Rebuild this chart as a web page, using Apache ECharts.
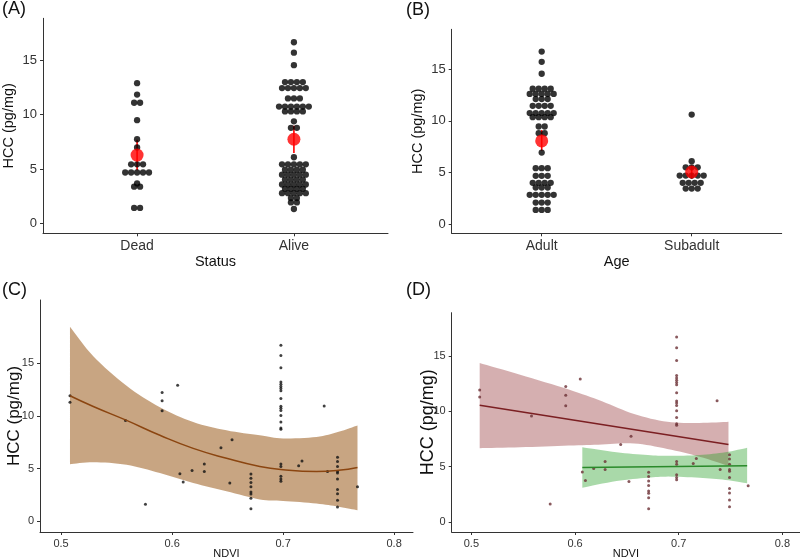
<!DOCTYPE html>
<html>
<head>
<meta charset="utf-8">
<script src="https://cdn.jsdelivr.net/npm/echarts@6/dist/echarts.min.js"></script>
<style>
  html, body { margin: 0; background: #fff; }
  #chart { width: 800px; height: 560px; }
</style>
</head>
<body>
<div id="chart"></div>
<script>
// ---- panel A : HCC by status (dot plot + mean / CI) ----
const statusCats = ['Dead', 'Alive'];
const hccDead = [12.9, 11.85, 11.1, 11.1, 9.5, 7.75, 7.0, 5.45, 5.45, 5.45,
  4.7, 4.7, 4.7, 4.7, 4.7, 3.7, 3.4, 3.4, 1.45, 1.45];
const hccAlive = [16.65, 15.7, 14.55, 13.0, 13.0, 13.0, 13.0,
  12.45, 12.45, 12.45, 12.45, 12.45, 11.5, 11.5, 11.5,
  10.75, 10.75, 10.75, 10.75, 10.75, 10.75, 10.3, 10.3, 10.3, 10.3,
  9.4, 8.8, 8.8, 6.1,
  5.45, 5.45, 5.45, 5.45, 5.45, 4.95, 4.95, 4.95, 4.95,
  4.5, 4.5, 4.5, 4.5, 4.5, 4.05, 4.05, 4.05, 4.05,
  3.6, 3.6, 3.6, 3.6, 3.6, 3.2, 3.2, 3.2, 3.2,
  2.8, 2.8, 2.8, 2.8, 2.8, 2.35, 2.35, 1.95, 1.95, 1.35];
const statusMean = [6.3, 7.75];
const statusLo = [4.9, 6.5];
const statusHi = [7.7, 9.0];

// ---- panel B : HCC by age ----
const ageCats = ['Adult', 'Subadult'];
const hccAdult = [16.7, 15.7, 14.55, 13.1, 13.1, 13.1, 13.1,
  12.6, 12.6, 12.6, 12.6, 12.6, 12.1, 12.1, 12.1,
  11.45, 11.45, 11.45, 11.45, 10.75, 10.75, 10.75, 10.75, 10.75,
  10.35, 10.35, 10.35, 10.35, 9.45, 9.45, 8.8, 8.8, 6.93,
  5.42, 5.42, 5.42, 4.68, 4.68, 4.68, 4.0, 4.0, 4.0, 4.0,
  3.55, 3.55, 3.55, 2.84, 2.84, 2.84, 2.84, 2.84,
  2.09, 2.09, 2.09, 1.38, 1.38, 1.38];
const hccSubadult = [10.6, 6.1, 5.5, 5.5, 5.5, 4.7, 4.7, 4.7, 4.7, 4.7,
  4.0, 4.0, 4.0, 4.0, 3.45, 3.45, 3.45];
const ageMean = [8.05, 5.05];
const ageLo = [7.1, 4.4];
const ageHi = [9.1, 5.7];

// ---- panels C / D : HCC vs NDVI ----
const ndvi = [0.508, 0.508, 0.558, 0.576, 0.591, 0.591, 0.591, 0.605, 0.607, 0.610,
  0.618, 0.629, 0.629, 0.644, 0.652, 0.654,
  0.671, 0.671, 0.671, 0.671, 0.671, 0.671, 0.671, 0.671,
  0.698, 0.698, 0.698, 0.698, 0.698, 0.698, 0.698, 0.698, 0.698, 0.698, 0.698,
  0.698, 0.698, 0.698, 0.698, 0.698, 0.698, 0.698, 0.698, 0.698, 0.698,
  0.714, 0.717, 0.737, 0.740,
  0.749, 0.749, 0.749, 0.749, 0.749, 0.749, 0.749, 0.749, 0.749, 0.749,
  0.767];
const hcc = [11.92, 11.3, 9.58, 1.62, 12.24, 11.45, 10.5, 12.92, 4.52, 3.75,
  4.84, 5.46, 4.74, 6.99, 3.65, 7.74,
  4.5, 4.1, 3.7, 3.3, 2.8, 2.6, 2.2, 1.2,
  16.7, 15.73, 14.58, 13.23, 13.0, 12.8, 12.6, 12.39, 11.67, 10.92, 10.74,
  10.52, 10.05, 9.43, 8.87, 8.74, 5.46, 5.21, 4.28, 4.03, 3.81,
  5.28, 5.74, 10.95, 4.74,
  6.08, 5.68, 5.21, 4.74, 4.59, 4.03, 3.03, 2.62, 2.0, 1.37,
  3.28];

// C: smooth fit with band
const fitX  = [0.508, 0.529, 0.559, 0.589, 0.619, 0.649, 0.679, 0.700, 0.730, 0.750, 0.767];
const fitY  = [11.92, 10.9, 9.58, 8.17, 6.93, 5.99, 5.21, 4.9, 4.74, 4.85, 5.12];
const fitLo = [5.43, 5.62, 5.37, 4.59, 3.65, 2.87, 2.09, 1.95, 1.7, 1.4, 1.06];
const fitHi = [18.47, 15.67, 12.86, 10.83, 9.43, 8.64, 8.17, 7.87, 8.02, 8.5, 9.11];

// D: linear fits per age class
const adultLineX = [0.508, 0.748];
const adultLineY = [10.54, 7.0];
const adultBandX  = [0.508, 0.547, 0.594, 0.626, 0.657, 0.689, 0.720, 0.748];
const adultBandLo = [6.67, 6.75, 6.9, 7.0, 7.1, 6.6, 5.9, 5.06];
const adultBandHi = [14.35, 13.3, 11.96, 10.9, 9.75, 9.05, 8.95, 9.05];
const subLineX = [0.607, 0.766];
const subLineY = [4.92, 5.08];
const subBandX  = [0.607, 0.640, 0.670, 0.690, 0.720, 0.745, 0.766];
const subBandLo = [3.1, 3.7, 4.0, 4.1, 4.0, 3.8, 3.5];
const subBandHi = [6.75, 6.3, 6.05, 5.98, 6.05, 6.3, 6.7];

const hccTicks = [0, 5, 10, 15];
const ndviTicks = [0.5, 0.6, 0.7, 0.8];

const FONT = '"Liberation Sans", Arial, sans-serif';
const grids = [
  { left: 40, top: 18.3, width: 348, height: 215 },
  { left: 451.7, top: 29.3, width: 330, height: 204 },
  { left: 40, top: 300, width: 373, height: 234.3 },
  { left: 451.7, top: 312.7, width: 356, height: 221.6 }
];

// centred dot stacks (same value -> one horizontal row)
function dotStacks(values, cx, step) {
  const counts = {};
  values.forEach(v => { counts[v] = (counts[v] || 0) + 1; });
  const out = [];
  Object.keys(counts).forEach(k => {
    const n = counts[k];
    for (let i = 0; i < n; i++) out.push([cx + (i - (n - 1) / 2) * step, +k]);
  });
  return out;
}

// rounded outline through pixel points (drawing only, like smooth:true on a line)
function curve(p) {
  const out = [p[0]];
  for (let i = 0; i < p.length - 1; i++) {
    const p0 = p[i - 1] || p[i], p1 = p[i], p2 = p[i + 1], p3 = p[i + 2] || p[i + 1];
    const c1 = [p1[0] + (p2[0] - p0[0]) / 6, p1[1] + (p2[1] - p0[1]) / 6];
    const c2 = [p2[0] - (p3[0] - p1[0]) / 6, p2[1] - (p3[1] - p1[1]) / 6];
    for (let s = 1; s <= 8; s++) {
      const t = s / 8, u = 1 - t;
      out.push([
        u * u * u * p1[0] + 3 * u * u * t * c1[0] + 3 * u * t * t * c2[0] + t * t * t * p2[0],
        u * u * u * p1[1] + 3 * u * u * t * c1[1] + 3 * u * t * t * c2[1] + t * t * t * p2[1]
      ]);
    }
  }
  return out;
}

function band(idx, xs, lo, hi, color) {
  return {
    type: 'custom', xAxisIndex: idx, yAxisIndex: idx, silent: true,
    data: [[xs[0], lo[0]]],
    renderItem: function (params, api) {
      const top = curve(xs.map((x, i) => api.coord([x, hi[i]])));
      const bot = curve(xs.map((x, i) => api.coord([x, lo[i]]))).reverse();
      return { type: 'polygon', shape: { points: top.concat(bot) }, style: { fill: color } };
    }
  };
}

function errBars(idx, lo, hi) {
  return {
    type: 'custom', xAxisIndex: idx, yAxisIndex: idx, silent: true,
    data: lo.map((l, i) => [i + 1, l, hi[i]]),
    renderItem: function (params, api) {
      const a = api.coord([api.value(0), api.value(1)]);
      const b = api.coord([api.value(0), api.value(2)]);
      return { type: 'line', shape: { x1: a[0], y1: a[1], x2: b[0], y2: b[1] },
        style: { stroke: '#ff0000', lineWidth: 1.6 } };
    }
  };
}

function axisBase(idx) {
  return {
    gridIndex: idx, type: 'value', scale: true,
    splitLine: { show: false },
    nameMoveOverlap: false,
    axisLine: { show: true, onZero: false, lineStyle: { color: '#333', width: 1 } },
    axisTick: { show: true, length: 3, lineStyle: { color: '#333' } }
  };
}

function catX(idx, cats, name) {
  return Object.assign(axisBase(idx), {
    min: 0.4, max: 2.6, name: name, nameLocation: 'middle', nameGap: 21,
    nameTextStyle: { fontSize: 14.5, color: '#111', fontFamily: FONT },
    axisLabel: { customValues: [1, 2], formatter: v => cats[Math.round(v) - 1],
      fontSize: 14, color: '#333', margin: 6, fontFamily: FONT },
    axisTick: { show: true, length: 3, customValues: [1, 2], lineStyle: { color: '#333' } }
  });
}

function hccY(idx, min, max, nameSize, nameGap, labelSize) {
  return Object.assign(axisBase(idx), {
    min: min, max: max, name: 'HCC (pg/mg)', nameLocation: 'middle', nameGap: nameGap,
    nameTextStyle: { fontSize: nameSize, color: '#111', fontFamily: FONT },
    axisLabel: { customValues: hccTicks, fontSize: labelSize, color: '#333', margin: 6, fontFamily: FONT },
    axisTick: { show: true, length: 3, customValues: hccTicks, lineStyle: { color: '#333' } }
  });
}

function ndviX(idx) {
  return Object.assign(axisBase(idx), {
    min: 0.481, max: 0.817, name: 'NDVI', nameLocation: 'middle', nameGap: 16,
    nameTextStyle: { fontSize: 11, color: '#111', fontFamily: FONT },
    axisLabel: { customValues: ndviTicks, formatter: v => v.toFixed(1),
      fontSize: 11, color: '#333', margin: 6, fontFamily: FONT },
    axisTick: { show: true, length: 3, customValues: ndviTicks, lineStyle: { color: '#333' } }
  });
}

const DOT = 6.3;
const stepA = (DOT - 0.3) / (grids[0].width / 2.2);
const stepB = (DOT - 0.3) / (grids[1].width / 2.2);
const pts = ndvi.map((x, i) => [x, hcc[i]]);

const chart = echarts.init(document.getElementById('chart'));
chart.setOption({
  animation: false,
  backgroundColor: '#fff',
  textStyle: { fontFamily: FONT },
  title: [
    { text: '(A)', left: 2, top: 0 },
    { text: '(B)', left: 406, top: 1 },
    { text: '(C)', left: 2, top: 281 },
    { text: '(D)', left: 406, top: 281 }
  ].map(t => Object.assign(t, { padding: 0,
    textStyle: { fontSize: 18, fontWeight: 'normal', color: '#111', fontFamily: FONT } })),
  grid: grids,
  xAxis: [catX(0, statusCats, 'Status'), catX(1, ageCats, 'Age'), ndviX(2), ndviX(3)],
  yAxis: [
    hccY(0, -0.88, 18.85, 14.5, 27, 13),
    hccY(1, -0.88, 18.85, 14.5, 26, 13),
    hccY(2, -1, 21, 17, 17, 11),
    hccY(3, -0.9, 18.9, 18, 15, 11)
  ],
  series: [
    // A
    { type: 'scatter', xAxisIndex: 0, yAxisIndex: 0, symbolSize: DOT,
      itemStyle: { color: '#000' },
      data: dotStacks(hccDead, 1, stepA).concat(dotStacks(hccAlive, 2, stepA)) },
    errBars(0, statusLo, statusHi),
    { type: 'scatter', xAxisIndex: 0, yAxisIndex: 0, symbolSize: 13,
      itemStyle: { color: '#ff0000' }, data: statusMean.map((m, i) => [i + 1, m]) },
    // B
    { type: 'scatter', xAxisIndex: 1, yAxisIndex: 1, symbolSize: DOT,
      itemStyle: { color: '#000' },
      data: dotStacks(hccAdult, 1, stepB).concat(dotStacks(hccSubadult, 2, stepB)) },
    errBars(1, ageLo, ageHi),
    { type: 'scatter', xAxisIndex: 1, yAxisIndex: 1, symbolSize: 13,
      itemStyle: { color: '#ff0000' }, data: ageMean.map((m, i) => [i + 1, m]) },
    // C
    band(2, fitX, fitLo, fitHi, 'rgba(160,100,40,0.58)'),
    { type: 'line', xAxisIndex: 2, yAxisIndex: 2, smooth: true, symbol: 'none',
      lineStyle: { color: '#8b4510', width: 1.5 }, data: fitX.map((x, i) => [x, fitY[i]]) },
    { type: 'scatter', xAxisIndex: 2, yAxisIndex: 2, symbolSize: 3,
      itemStyle: { color: '#111' }, data: pts },
    // D
    band(3, adultBandX, adultBandLo, adultBandHi, 'rgba(150,55,58,0.4)'),
    band(3, subBandX, subBandLo, subBandHi, 'rgba(40,160,40,0.4)'),
    { type: 'line', xAxisIndex: 3, yAxisIndex: 3, symbol: 'none',
      lineStyle: { color: '#7b1f22', width: 1.5 }, data: adultLineX.map((x, i) => [x, adultLineY[i]]) },
    { type: 'line', xAxisIndex: 3, yAxisIndex: 3, symbol: 'none',
      lineStyle: { color: '#2a8a2a', width: 1.5 }, data: subLineX.map((x, i) => [x, subLineY[i]]) },
    { type: 'scatter', xAxisIndex: 3, yAxisIndex: 3, symbolSize: 3,
      itemStyle: { color: '#6b3034' }, data: pts }
  ]
});
</script>
</body>
</html>
